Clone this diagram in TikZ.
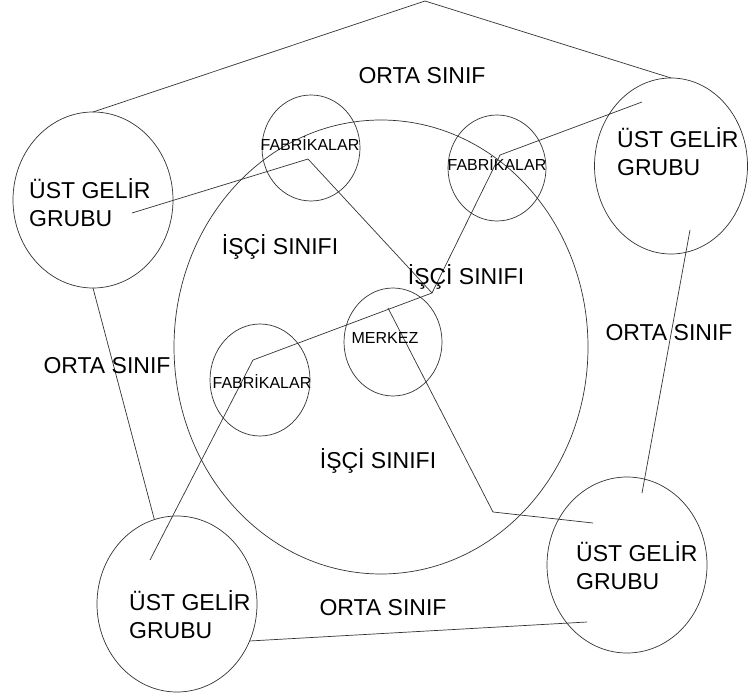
\documentclass[tikz,border=0pt]{standalone}
\usepackage{fontspec}
\setmainfont{Liberation Sans}
\usetikzlibrary{shapes.geometric}
\begin{document}
\begin{tikzpicture}[x=1pt,y=-1pt,
  ring/.style={draw=black!80,line width=0.7pt,ellipse,inner sep=0pt,outer sep=0pt},
  link/.style={draw=black!80,line width=0.7pt,line join=round},
  big/.style={font=\fontsize{23}{28}\selectfont,inner sep=0pt,text=black},
  small/.style={font=\fontsize{16}{18}\selectfont,inner sep=0pt,text=black},
  grp/.style={big,align=left,anchor=west},
]
\useasboundingbox (0,0) rectangle (749,700);
\fill[white] (0,0) rectangle (749,700);

% rings
\node[ring,minimum width=414pt,minimum height=454pt] (core) at (381,347) {};
\node[ring,minimum width=160pt,minimum height=176pt] (ugTL) at (93,200) {};
\node[ring,minimum width=153pt,minimum height=176pt] (ugTR) at (671,166) {};
\node[ring,minimum width=160pt,minimum height=176pt] (ugBL) at (177,604) {};
\node[ring,minimum width=160pt,minimum height=176pt] (ugBR) at (627,565) {};
\node[ring,minimum width=98pt,minimum height=106pt] (fabT) at (311,148) {};
\node[ring,minimum width=98pt,minimum height=106pt] (fabR) at (497,168) {};
\node[ring,minimum width=100pt,minimum height=112pt] (fabL) at (260,380) {};
\node[ring,minimum width=98pt,minimum height=108pt] (mrk) at (393,342) {};

% bend points and free ends of the links
\coordinate (apex) at (425,1);
\coordinate (hub) at (432,293);
\coordinate (kT) at (308,159);
\coordinate (kR) at (500,155);
\coordinate (kL) at (253,360);
\coordinate (kM) at (493,512);
\coordinate (mS) at (388,308);
\coordinate (eTL) at (132,213);
\coordinate (eTR) at (642,102);
\coordinate (eTR2) at (690,230);
\coordinate (eBR) at (642,493);
\coordinate (eBR2) at (587,622);
\coordinate (eBR3) at (593,523);
\coordinate (eBL) at (150,560);

% outer ring of links
\draw[link] (ugTL.north) -- (apex) -- (ugTR.north);
\draw[link] (ugTL.south) -- (ugBL.105);
\draw[link] (ugBL.-27) -- (eBR2);
\draw[link] (eTR2) -- (eBR);

% inner links
\draw[link] (eTL) -- (kT) -- (hub);
\draw[link] (eTR) -- (kR) -- (hub);
\draw[link] (hub) -- (kL) -- (eBL);
\draw[link] (mS) -- (kM) -- (eBR3);

% labels
\node[big,anchor=base] (oTop) at (422,84) {ORTA SINIF};
\node[big,anchor=base] (oRight) at (669,341) {ORTA SINIF};
\node[big,anchor=base] (oLeft) at (107,373) {ORTA SINIF};
\node[big,anchor=base] (oBot) at (383,615) {ORTA SINIF};
\node[big,anchor=base] (iA) at (280,255) {İŞÇİ SINIFI};
\node[big,anchor=base] (iB) at (466,285) {İŞÇİ SINIFI};
\node[big,anchor=base] (iC) at (378,468) {İŞÇİ SINIFI};
\node[small,anchor=base] (fT) at (310,151) {FABRİKALAR};
\node[small,anchor=base] (fR) at (497,171) {FABRİKALAR};
\node[small,anchor=base] (fL) at (262,388) {FABRİKALAR};
\node[small,anchor=base] (mT) at (385,343) {MERKEZ};
\node[grp] (gTL) at (29,203) {ÜST GELİR\\GRUBU};
\node[grp] (gTR) at (617,152) {ÜST GELİR\\GRUBU};
\node[grp] (gBL) at (129,615) {ÜST GELİR\\GRUBU};
\node[grp] (gBR) at (576,566) {ÜST GELİR\\GRUBU};
\end{tikzpicture}
\end{document}
